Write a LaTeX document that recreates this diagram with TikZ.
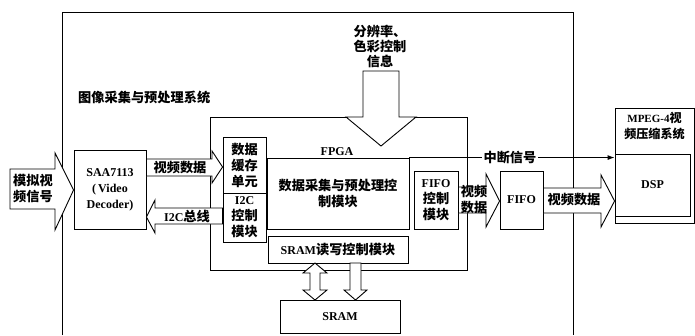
\documentclass[tikz,border=0pt]{standalone}
\usepackage{fontspec}
\setmainfont{Liberation Serif}
\newfontfamily\cjkfont{Noto Sans CJK SC}[Scale=1.1]
\newcommand\zhtxt[1]{{\cjkfont #1}}
\usetikzlibrary{arrows.meta,calc}
\tikzset{
  every node/.style={font=\fontsize{12}{16}\selectfont\bfseries, inner sep=1pt},
  blk/.style={draw, line width=0.9pt, minimum width=#1, inner sep=0pt, align=center},
  fat/.style={draw, fill=white, line width=0.9pt, line join=miter},
  ln/.style={line width=0.9pt}
}
\begin{document}
\begin{tikzpicture}[x=1pt,y=-1pt]
\useasboundingbox (0,0) rectangle (695,335);
\fill[white] (0,0) rectangle (695,335);

% outer system box (open at the bottom)
\coordinate (sysbl) at (62,335);
\coordinate (systl) at (62,12);
\coordinate (systr) at (573,12);
\coordinate (sysbr) at (573,335);
\draw[ln] (sysbl) -- (systl) -- (systr) -- (sysbr);
\node[anchor=west] (syslabel) at (77,97) {\zhtxt{图像采集与预处理系统}};

% FPGA box
\draw[ln] (210,117) rectangle (467,270);
\node (fpgalabel) at (337,152) {FPGA};

% blocks
\node[blk=72pt, minimum height=79pt] (saa) at (110,189.5) {SAA7113\\(\,Video\\Decoder)};
\node[blk=43pt, minimum height=56pt] (buf) at (244.5,165) {\zhtxt{数据}\\\zhtxt{缓存}\\\zhtxt{单元}};
\node[blk=43pt, minimum height=49pt] (i2c) at (244.5,217.5) {I2C\\\zhtxt{控制}\\\zhtxt{模块}};
\node[blk=142pt, minimum height=71pt] (main) at (338,193.5) {\zhtxt{数据采集与预处理控}\\\zhtxt{制模块}};
\node[blk=140pt, minimum height=27pt] (sramc) at (338,249.5) {SRAM\zhtxt{读写控制模块}};
\node[blk=44pt, minimum height=58pt] (fifoc) at (436,200) {FIFO\\\zhtxt{控制}\\\zhtxt{模块}};
\node[blk=43pt, minimum height=58pt] (fifo) at (521.5,200) {FIFO};
\node[blk=120pt, minimum height=33pt] (sram) at (340,316.5) {SRAM};
\node[blk=79pt, minimum height=115pt] (mpeg) at (654.5,165.5) {};
\node[anchor=north, align=center, font=\fontsize{11}{16}\selectfont\bfseries] (mpeglabel) at (654.5,111) {MPEG-4\zhtxt{视}\\\zhtxt{频压缩系统}};
\node[blk=75pt, minimum height=62pt] (dsp) at (652.5,185) {DSP};

% input arrow
\draw[fat] (10,169) -- (55,169) -- (55,153) -- (saa.west |- 0,190) -- (55,230) -- (55,209) -- (10,209) -- cycle;
\node[align=center] (intext) at (33,189) {\zhtxt{模拟视}\\\zhtxt{频信号}};

% video data SAA -> buffer
\draw[fat] (saa.east |- 0,159) -- (212,159) -- (212,151) -- (buf.west |- 0,167) -- (212,183) -- (212,176) -- (saa.east |- 0,176) -- cycle;
\node (vd1) at (180,167.5) {\zhtxt{视频数据}};

% I2C bus i2c -> SAA
\draw[fat] (i2c.west |- 0,208) -- (155,208) -- (155,200) -- (saa.east |- 0,217) -- (155,233) -- (155,224) -- (i2c.west |- 0,224) -- cycle;
\node (i2cbus) at (187,216) {I2C\zhtxt{总线}};

% big down arrow
\draw[fat] (363,71) -- (399,71) -- (399,117) -- (416,117) -- (381,146) -- (346,117) -- (363,117) -- cycle;
\node[align=center, font=\fontsize{12}{15}\selectfont\bfseries] (ctrlinfo) at (380,46) {\zhtxt{分辨率、}\\\zhtxt{色彩控制}\\\zhtxt{信息}};

% video data FIFO ctrl -> FIFO
\draw[fat] (fifoc.east |- 0,187) -- (486,187) -- (486,174) -- (fifo.west |- 0,201) -- (486,227) -- (486,213) -- (fifoc.east |- 0,213) -- cycle;
\node[align=center] (vd2) at (474,200) {\zhtxt{视频}\\\zhtxt{数据}};

% video data FIFO -> DSP
\draw[fat] (fifo.east |- 0,188) -- (601,188) -- (601,175) -- (mpeg.west |- 0,201) -- (601,227) -- (601,213) -- (fifo.east |- 0,213) -- cycle;
\node (vd3) at (574,200) {\zhtxt{视频数据}};

% SRAM arrows
\draw[fat] (315,263) -- (327,273) -- (320,273) -- (320,290) -- (327,290) -- (315,300) -- (303,290) -- (310,290) -- (310,273) -- (303,273) -- cycle;
\draw[fat] (350,263) -- (361,263) -- (361,290) -- (367,290) -- (355.5,300) -- (344,290) -- (350,290) -- cycle;

% interrupt line
\draw[ln, -{Latex[length=7pt,width=5pt]}] (main.north east) -- (main.north east -| mpeg.west)
  node[pos=0.49, fill=white, inner sep=1.5pt] (irq) {\zhtxt{中断信号}};
\end{tikzpicture}
\end{document}
